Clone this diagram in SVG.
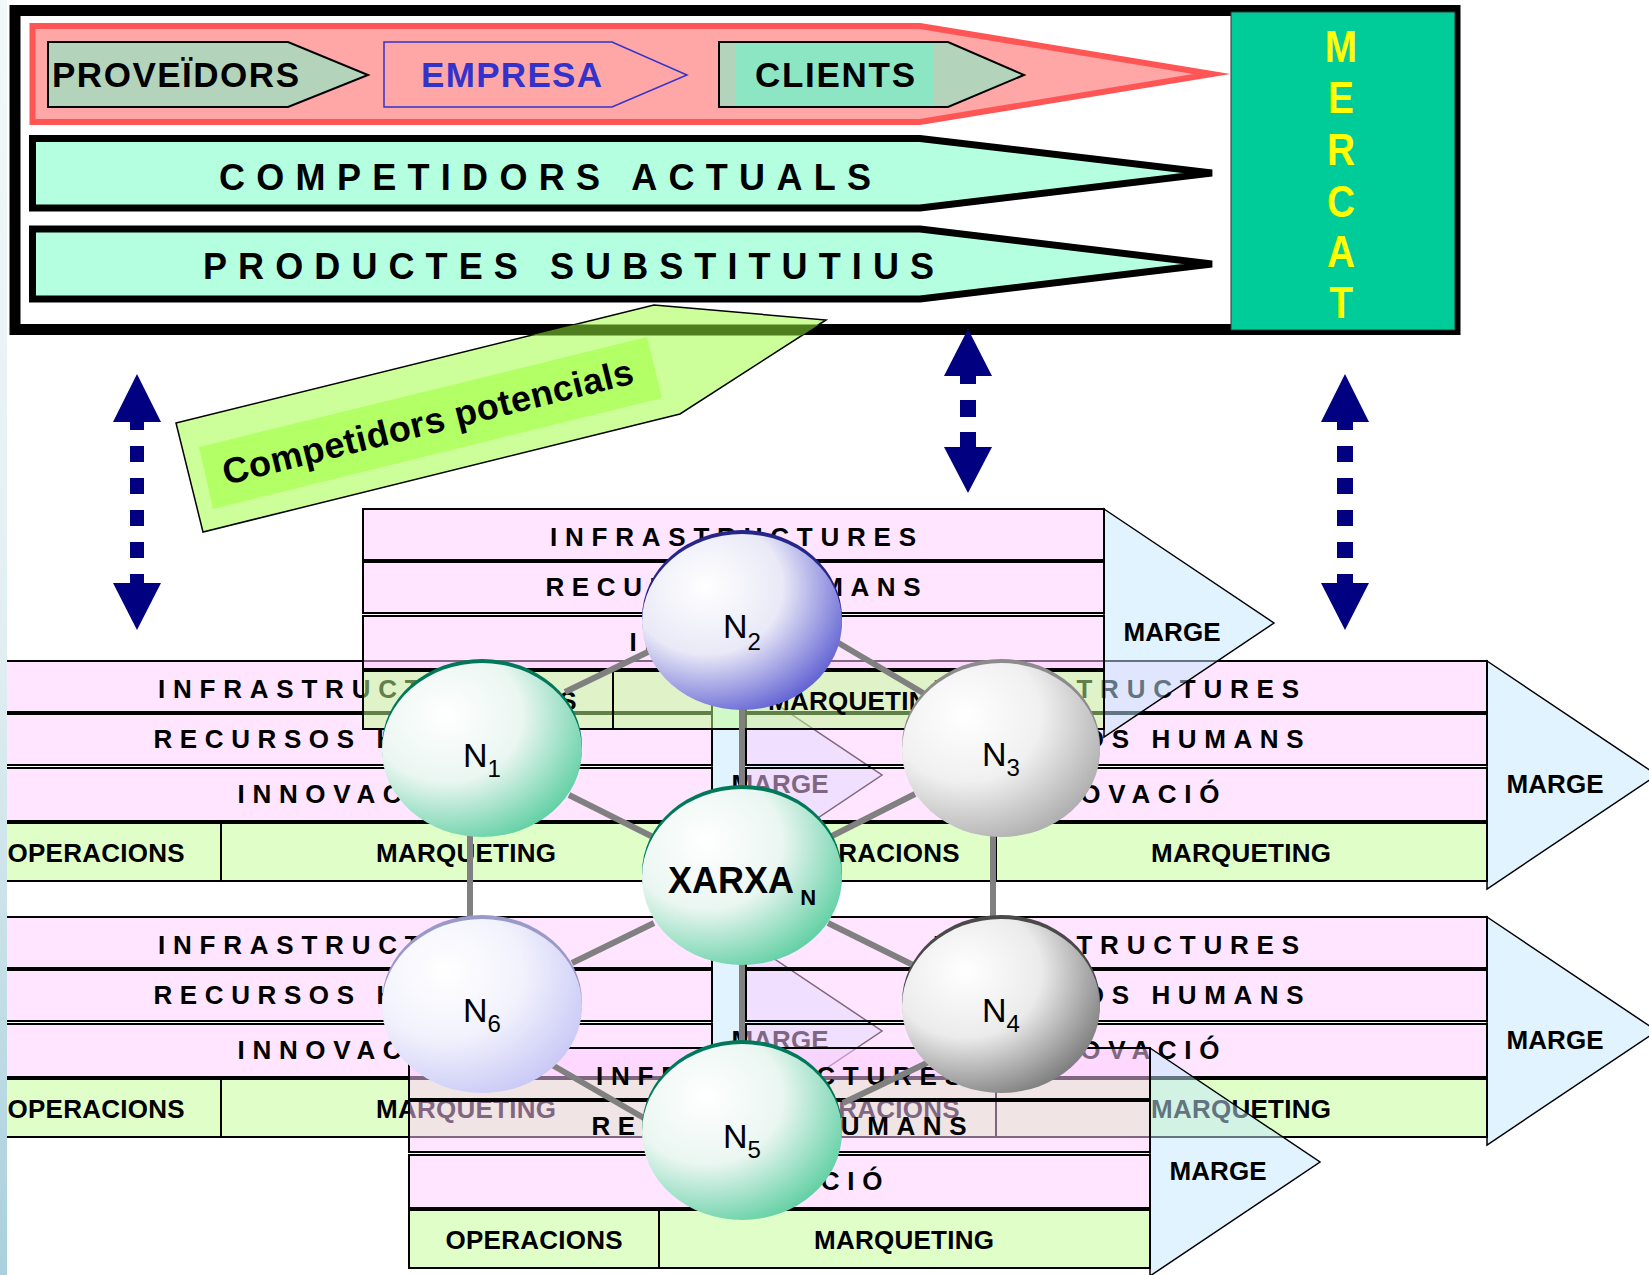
<svg xmlns="http://www.w3.org/2000/svg" width="1649" height="1275" viewBox="0 0 1649 1275">
<defs>
<style>
text{font-family:"Liberation Sans",Arial,Helvetica,sans-serif}
.sp{fill:#FFCBFF;fill-opacity:.5;stroke:#000;stroke-width:2}
.pr{fill:#C1FF91;fill-opacity:.5;stroke:#000;stroke-width:2}
.mg{fill:#C3E7FF;fill-opacity:.5;stroke:#000;stroke-width:1.5}
.ct{font-size:26px;font-weight:bold;text-anchor:middle;fill:#000}
.top{font-size:35px;font-weight:bold}
.wide{font-size:36px;font-weight:bold}
.ar{fill:#000080}
.cn{stroke:#808080;stroke-width:6;fill:none}
.nl{font-size:34px;text-anchor:middle;fill:#000}
.ns{font-size:24px}
.mc{font-size:44px;font-weight:bold;fill:#FFFF00;text-anchor:middle}
</style>
<linearGradient id="strip" x1="0" y1="0" x2="0" y2="1">
<stop offset="0" stop-color="#F2F8F9"/>
<stop offset="0.5" stop-color="#E2EFF2"/>
<stop offset="1" stop-color="#A9D0DC"/>
</linearGradient>
<radialGradient id="gBlue" cx="0.32" cy="0.3" r="0.85">
<stop offset="0" stop-color="#FFFFFF"/>
<stop offset="0.45" stop-color="#E9E9F7"/>
<stop offset="1" stop-color="#4545CC"/>
</radialGradient>
<radialGradient id="gGreen" cx="0.32" cy="0.3" r="0.85">
<stop offset="0" stop-color="#FFFFFF"/>
<stop offset="0.45" stop-color="#EAF6F1"/>
<stop offset="1" stop-color="#45C894"/>
</radialGradient>
<radialGradient id="gGrey" cx="0.32" cy="0.3" r="0.85">
<stop offset="0" stop-color="#FFFFFF"/>
<stop offset="0.45" stop-color="#F0F0F0"/>
<stop offset="1" stop-color="#A0A0A0"/>
</radialGradient>
<radialGradient id="gDark" cx="0.32" cy="0.3" r="0.85">
<stop offset="0" stop-color="#FFFFFF"/>
<stop offset="0.45" stop-color="#EBEBEB"/>
<stop offset="1" stop-color="#666666"/>
</radialGradient>
<radialGradient id="gLav" cx="0.32" cy="0.3" r="0.85">
<stop offset="0" stop-color="#FFFFFF"/>
<stop offset="0.45" stop-color="#F2F2FD"/>
<stop offset="1" stop-color="#C0C0F5"/>
</radialGradient>
<clipPath id="band"><rect x="0" y="324.5" width="1649" height="11"/></clipPath>
</defs>

<rect x="0" y="0" width="1649" height="1275" fill="#FFFFFF"/>

<g id="frame">
<rect x="15" y="10.5" width="1440" height="319" fill="#FFFFFF" stroke="#000" stroke-width="11"/>
</g>

<g id="mercat">
<rect x="1231" y="12" width="224" height="318" fill="#00CC99" stroke="#333" stroke-width="1"/>
<g transform="translate(1341 0) scale(0.88 1)">
<text class="mc" x="0" y="62">M</text>
<text class="mc" x="0" y="113">E</text>
<text class="mc" x="0" y="165">R</text>
<text class="mc" x="0" y="217">C</text>
<text class="mc" x="0" y="267">A</text>
<text class="mc" x="0" y="318">T</text>
</g>
</g>

<g id="cadena-valor">
<polygon points="32.5,26 920,26 1212,74 920,122 32.5,122" fill="#FFA6A6" stroke="#FF5555" stroke-width="6" stroke-miterlimit="12"/>
</g>

<g id="proveidors">
<polygon points="48,42 288,42 368,75 288,107 48,107" fill="#B3D3BB" stroke="#000" stroke-width="2"/>
<text class="top" x="52" y="87" textLength="247">PROVEÏDORS</text>
</g>

<g id="empresa">
<polygon points="384,42 612,42 687,75 612,107 384,107" fill="#FFA6A6" stroke="#3333CC" stroke-width="1.5"/>
<text class="top" x="421" y="87" textLength="181" fill="#3333CC">EMPRESA</text>
</g>

<g id="clients">
<polygon points="719,42 948,42 1024,75 948,107 719,107" fill="#B3D3BB" stroke="#000" stroke-width="2"/>
<rect x="735" y="43.5" width="199" height="62" fill="#8DE6C3"/>
<text class="top" x="755" y="87" textLength="160">CLIENTS</text>
</g>

<g id="competidors-actuals">
<polygon points="32.5,138.5 920,138.5 1212,173 920,208 32.5,208" fill="#B3FFE0" stroke="#000" stroke-width="7"/>
<text class="wide" x="219" y="190" textLength="652">COMPETIDORS ACTUALS</text>
</g>

<g id="productes-substitutius">
<polygon points="32.5,229 920,229 1212,264 920,299 32.5,299" fill="#B3FFE0" stroke="#000" stroke-width="7"/>
<text class="wide" x="203" y="279" textLength="731">PRODUCTES SUBSTITUTIUS</text>
</g>

<g id="competidors-potencials">
<polygon points="176,423 654,305 826,320 680,414 203,532" fill="#CCFF99" stroke="#000" stroke-width="1.5"/>
<polygon points="176,423 654,305 826,320 680,414 203,532" fill="#4E7E1E" clip-path="url(#band)"/>
<polygon points="199,447 647,337 662,398 213,509" fill="#B3FF66"/>
<text class="wide" transform="translate(226,485) rotate(-14)" x="0" y="0" textLength="422">Competidors potencials</text>
</g>

<g id="arrows">
<g id="arrow-left" class="ar">
<polygon points="137,374 161,422 113,422"/>
<rect x="130" y="421" width="14" height="9"/>
<rect x="130" y="446" width="14" height="16"/>
<rect x="130" y="478" width="14" height="16"/>
<rect x="130" y="510" width="14" height="16"/>
<rect x="130" y="542" width="14" height="16"/>
<rect x="130" y="574" width="14" height="10"/>
<polygon points="113,583 161,583 137,630"/>
</g>
<g id="arrow-mid" class="ar">
<polygon points="968,329 992,376 944,376"/>
<rect x="960" y="375" width="16" height="9"/>
<rect x="960" y="400" width="16" height="17"/>
<rect x="960" y="432" width="16" height="16"/>
<polygon points="944,447 992,447 968,493"/>
</g>
<g id="arrow-right" class="ar">
<polygon points="1345,374 1369,422 1321,422"/>
<rect x="1337" y="421" width="16" height="9"/>
<rect x="1337" y="446" width="16" height="16"/>
<rect x="1337" y="478" width="16" height="16"/>
<rect x="1337" y="510" width="16" height="16"/>
<rect x="1337" y="542" width="16" height="16"/>
<rect x="1337" y="574" width="16" height="10"/>
<polygon points="1321,583 1369,583 1345,630"/>
</g>
</g>

<g id="chain-C" transform="translate(-29,661)">
<polygon class="mg" points="741,0 911,114 741,228"/>
<rect class="sp" x="0" y="0" width="741" height="51"/>
<rect class="sp" x="0" y="53" width="741" height="51"/>
<rect class="sp" x="0" y="107" width="741" height="53"/>
<rect class="pr" x="0" y="162" width="250" height="58"/>
<rect class="pr" x="250" y="162" width="491" height="58"/>
<text class="ct" x="370" y="37" textLength="366">INFRASTRUCTURES</text>
<text class="ct" x="370" y="87" textLength="375">RECURSOS HUMANS</text>
<text class="ct" x="370" y="142" textLength="207">INNOVACIÓ</text>
<text class="ct" x="125" y="201" textLength="177">OPERACIONS</text>
<text class="ct" x="495" y="201" textLength="180">MARQUETING</text>
<text class="ct" x="809" y="132" textLength="97">MARGE</text>
</g>

<g id="chain-D" transform="translate(-29,917)">
<polygon class="mg" points="741,0 911,114 741,228"/>
<rect class="sp" x="0" y="0" width="741" height="51"/>
<rect class="sp" x="0" y="53" width="741" height="51"/>
<rect class="sp" x="0" y="107" width="741" height="53"/>
<rect class="pr" x="0" y="162" width="250" height="58"/>
<rect class="pr" x="250" y="162" width="491" height="58"/>
<text class="ct" x="370" y="37" textLength="366">INFRASTRUCTURES</text>
<text class="ct" x="370" y="87" textLength="375">RECURSOS HUMANS</text>
<text class="ct" x="370" y="142" textLength="207">INNOVACIÓ</text>
<text class="ct" x="125" y="201" textLength="177">OPERACIONS</text>
<text class="ct" x="495" y="201" textLength="180">MARQUETING</text>
<text class="ct" x="809" y="132" textLength="97">MARGE</text>
</g>

<g id="chain-B" transform="translate(746,661)">
<polygon class="mg" points="741,0 911,114 741,228"/>
<rect class="sp" x="0" y="0" width="741" height="51"/>
<rect class="sp" x="0" y="53" width="741" height="51"/>
<rect class="sp" x="0" y="107" width="741" height="53"/>
<rect class="pr" x="0" y="162" width="250" height="58"/>
<rect class="pr" x="250" y="162" width="491" height="58"/>
<text class="ct" x="370" y="37" textLength="366">INFRASTRUCTURES</text>
<text class="ct" x="370" y="87" textLength="375">RECURSOS HUMANS</text>
<text class="ct" x="370" y="142" textLength="207">INNOVACIÓ</text>
<text class="ct" x="125" y="201" textLength="177">OPERACIONS</text>
<text class="ct" x="495" y="201" textLength="180">MARQUETING</text>
<text class="ct" x="809" y="132" textLength="97">MARGE</text>
</g>

<g id="chain-F" transform="translate(746,917)">
<polygon class="mg" points="741,0 911,114 741,228"/>
<rect class="sp" x="0" y="0" width="741" height="51"/>
<rect class="sp" x="0" y="53" width="741" height="51"/>
<rect class="sp" x="0" y="107" width="741" height="53"/>
<rect class="pr" x="0" y="162" width="250" height="58"/>
<rect class="pr" x="250" y="162" width="491" height="58"/>
<text class="ct" x="370" y="37" textLength="366">INFRASTRUCTURES</text>
<text class="ct" x="370" y="87" textLength="375">RECURSOS HUMANS</text>
<text class="ct" x="370" y="142" textLength="207">INNOVACIÓ</text>
<text class="ct" x="125" y="201" textLength="177">OPERACIONS</text>
<text class="ct" x="495" y="201" textLength="180">MARQUETING</text>
<text class="ct" x="809" y="132" textLength="97">MARGE</text>
</g>

<g id="chain-A" transform="translate(363,509)">
<polygon class="mg" points="741,0 911,114 741,228"/>
<rect class="sp" x="0" y="0" width="741" height="51"/>
<rect class="sp" x="0" y="53" width="741" height="51"/>
<rect class="sp" x="0" y="107" width="741" height="53"/>
<rect class="pr" x="0" y="162" width="250" height="58"/>
<rect class="pr" x="250" y="162" width="491" height="58"/>
<text class="ct" x="370" y="37" textLength="366">INFRASTRUCTURES</text>
<text class="ct" x="370" y="87" textLength="375">RECURSOS HUMANS</text>
<text class="ct" x="370" y="142" textLength="207">INNOVACIÓ</text>
<text class="ct" x="125" y="201" textLength="177">OPERACIONS</text>
<text class="ct" x="495" y="201" textLength="180">MARQUETING</text>
<text class="ct" x="809" y="132" textLength="97">MARGE</text>
</g>

<g id="chain-E" transform="translate(409,1048)">
<polygon class="mg" points="741,0 911,114 741,228"/>
<rect class="sp" x="0" y="0" width="741" height="51"/>
<rect class="sp" x="0" y="53" width="741" height="51"/>
<rect class="sp" x="0" y="107" width="741" height="53"/>
<rect class="pr" x="0" y="162" width="250" height="58"/>
<rect class="pr" x="250" y="162" width="491" height="58"/>
<text class="ct" x="370" y="37" textLength="366">INFRASTRUCTURES</text>
<text class="ct" x="370" y="87" textLength="375">RECURSOS HUMANS</text>
<text class="ct" x="370" y="142" textLength="207">INNOVACIÓ</text>
<text class="ct" x="125" y="201" textLength="177">OPERACIONS</text>
<text class="ct" x="495" y="201" textLength="180">MARQUETING</text>
<text class="ct" x="809" y="132" textLength="97">MARGE</text>
</g>

<rect x="0" y="0" width="7" height="1275" fill="url(#strip)"/>

<g id="connectors" class="cn">
<line x1="565" y1="692" x2="652" y2="650"/>
<line x1="825" y1="635" x2="935" y2="700"/>
<line x1="742" y1="708" x2="742" y2="793"/>
<line x1="742" y1="962" x2="742" y2="1050"/>
<line x1="569" y1="795" x2="655" y2="838"/>
<line x1="915" y1="794" x2="830" y2="837"/>
<line x1="470" y1="834" x2="470" y2="919"/>
<line x1="993" y1="833" x2="993" y2="918"/>
<line x1="654" y1="923" x2="572" y2="963"/>
<line x1="828" y1="923" x2="913" y2="965"/>
<line x1="547" y1="1062" x2="656" y2="1125"/>
<line x1="931" y1="1061" x2="843" y2="1103"/>
</g>

<g id="node-N2">
<ellipse cx="742" cy="618" rx="100" ry="88" fill="#26268A"/>
<ellipse cx="742" cy="622" rx="100" ry="88" fill="url(#gBlue)"/>
<text class="nl" x="742" y="638">N<tspan class="ns" dy="12">2</tspan></text>
</g>
<g id="node-N1">
<ellipse cx="482" cy="746" rx="100" ry="87" fill="#00785A"/>
<ellipse cx="482" cy="750" rx="100" ry="87" fill="url(#gGreen)"/>
<text class="nl" x="482" y="767">N<tspan class="ns" dy="10">1</tspan></text>
</g>
<g id="node-N3">
<ellipse cx="1001" cy="746" rx="99" ry="87" fill="#8C8C8C"/>
<ellipse cx="1001" cy="750" rx="99" ry="87" fill="url(#gGrey)"/>
<text class="nl" x="1001" y="766">N<tspan class="ns" dy="10">3</tspan></text>
</g>
<g id="node-XARXA">
<ellipse cx="742" cy="873" rx="100" ry="88" fill="#00785A"/>
<ellipse cx="742" cy="877" rx="100" ry="88" fill="url(#gGreen)"/>
<text x="742" y="893" text-anchor="middle" font-size="36" font-weight="bold">XARXA<tspan font-size="22" dy="12"> N</tspan></text>
</g>
<g id="node-N6">
<ellipse cx="482" cy="1002" rx="100" ry="87" fill="#9A9AC8"/>
<ellipse cx="482" cy="1006" rx="100" ry="87" fill="url(#gLav)"/>
<text class="nl" x="482" y="1022">N<tspan class="ns" dy="10">6</tspan></text>
</g>
<g id="node-N4">
<ellipse cx="1001" cy="1002" rx="99" ry="87" fill="#4A4A4A"/>
<ellipse cx="1001" cy="1006" rx="99" ry="87" fill="url(#gDark)"/>
<text class="nl" x="1001" y="1022">N<tspan class="ns" dy="10">4</tspan></text>
</g>
<g id="node-N5">
<ellipse cx="742" cy="1128" rx="100" ry="88" fill="#00785A"/>
<ellipse cx="742" cy="1132" rx="100" ry="88" fill="url(#gGreen)"/>
<text class="nl" x="742" y="1148">N<tspan class="ns" dy="10">5</tspan></text>
</g>
</svg>
